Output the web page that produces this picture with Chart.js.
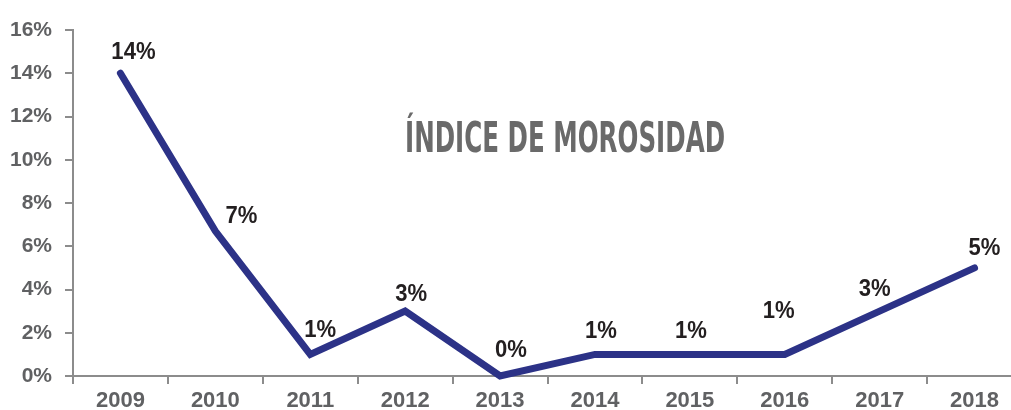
<!DOCTYPE html>
<html lang="es">
<head>
<meta charset="utf-8">
<script src="https://cdn.jsdelivr.net/npm/chart.js@4/dist/chart.umd.min.js"></script>
<style>
  html, body { margin: 0; padding: 0; background: #fff; overflow: hidden; }
  #wrap { position: absolute; left: 0; top: 0; width: 1022px; height: 410px; }
  #title {
    position: absolute; left: 405px; top: 116px;
    font-family: 'Liberation Sans Narrow', 'DejaVu Sans Condensed', 'Liberation Sans', sans-serif;
    font-weight: bold; font-size: 43px; line-height: 1; color: #6a6a6a;
    white-space: nowrap; transform-origin: 0 0;
  }
</style>
</head>
<body>
<div id="wrap">
  <canvas id="chart" width="1022" height="410"></canvas>
  <div id="title">ÍNDICE DE MOROSIDAD</div>
</div>
<script>
// --- data ---
const years = ['2009', '2010', '2011', '2012', '2013', '2014', '2015', '2016', '2017', '2018'];
const morosidad = [14, 6.7, 1, 3, 0, 1, 1, 1, 3, 5];
const yTicks = [0, 2, 4, 6, 8, 10, 12, 14, 16];

// label placement relative to each point (style only)
const labelDx = [13, 26, 10, 6, 11, 6, 1, -6, -5, 10];
const labelDy = [-14, -8, -17, -10, -19, -16, -16, -36, -15, -13];

const axisGray = '#8c8c8c';
const tickGray = '#606163';
const lineBlue = '#2c3287';
const fontFam = "'Liberation Sans', Arial, sans-serif";

// draws the % value next to every point
const pointLabels = {
  id: 'pointLabels',
  afterDatasetsDraw(chart) {
    const ctx = chart.ctx;
    const meta = chart.getDatasetMeta(0);
    ctx.save();
    ctx.font = 'bold 24px ' + fontFam;
    ctx.fillStyle = '#231f20';
    ctx.textAlign = 'center';
    ctx.textBaseline = 'alphabetic';
    meta.data.forEach((pt, i) => {
      const txt = Math.round(morosidad[i]) + '%';
      ctx.save();
      ctx.translate(pt.x + labelDx[i], pt.y + labelDy[i]);
      ctx.scale(0.92, 1);
      ctx.fillText(txt, 0, 0);
      ctx.restore();
    });
    ctx.restore();
  }
};

new Chart(document.getElementById('chart'), {
  type: 'line',
  data: {
    labels: years,
    datasets: [{
      data: morosidad,
      borderColor: lineBlue,
      borderWidth: 7,
      borderCapStyle: 'round',
      borderJoinStyle: 'miter',
      pointRadius: 0,
      tension: 0,
      clip: 10
    }]
  },
  options: {
    responsive: false,
    animation: false,
    devicePixelRatio: 1,
    layout: { padding: { top: 30, left: 0, right: 0, bottom: 0 } },
    plugins: { legend: { display: false }, tooltip: { enabled: false } },
    scales: {
      x: {
        offset: true,
        grid: { offset: true, drawOnChartArea: false, color: axisGray, lineWidth: 2, tickLength: 8 },
        border: { color: axisGray, width: 2 },
        ticks: { color: tickGray, font: { family: fontFam, size: 22, weight: 'bold' }, padding: 4, maxRotation: 0 },
        afterFit(scale) { scale.height = 34; }
      },
      y: {
        min: 0,
        max: 16,
        afterBuildTicks(scale) { scale.ticks = yTicks.map(v => ({ value: v })); },
        grid: { drawOnChartArea: false, color: axisGray, lineWidth: 2, tickLength: 8 },
        border: { color: axisGray, width: 2 },
        ticks: {
          color: tickGray,
          font: { family: fontFam, size: 21, weight: 'bold' },
          padding: 13,
          callback: v => v + '%'
        },
        afterFit(scale) { scale.width = 73; }
      }
    }
  },
  plugins: [pointLabels]
});

// squeeze the title into the condensed width of the original
const title = document.getElementById('title');
const targetW = 320;
title.style.transform = 'scaleX(' + (targetW / title.offsetWidth) + ')';
</script>
</body>
</html>
